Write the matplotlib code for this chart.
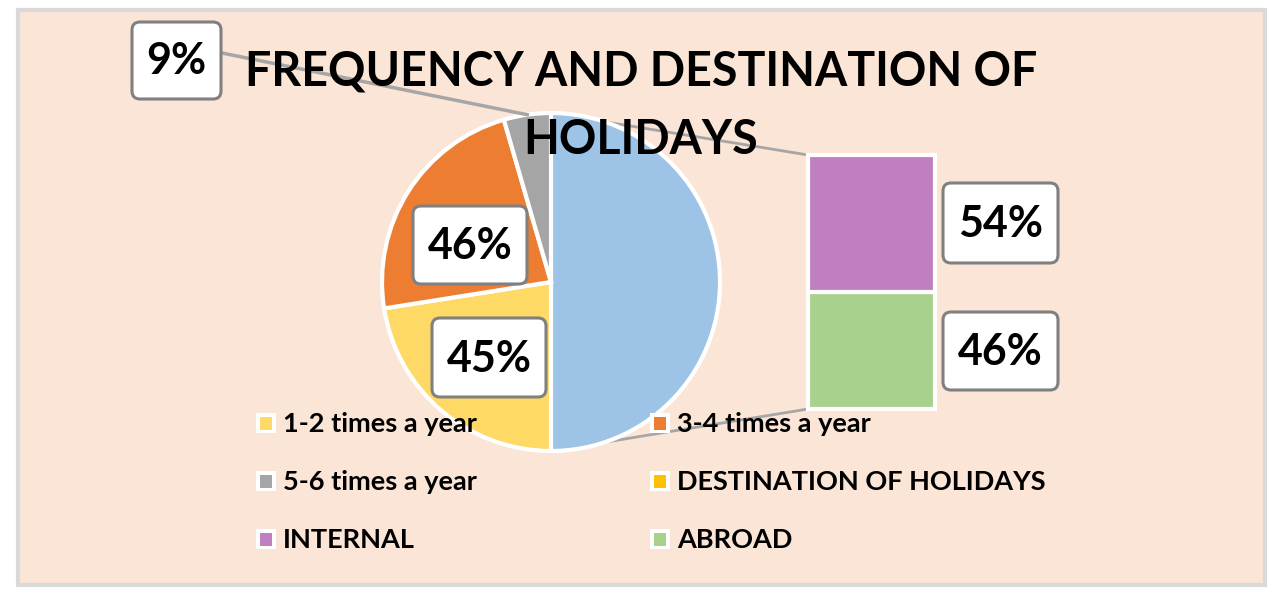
import matplotlib
matplotlib.use('Agg')
import numpy as np
import matplotlib.pyplot as plt
from matplotlib.patches import Rectangle, FancyBboxPatch

# data
freq_labels = ['1-2 times a year', '3-4 times a year', '5-6 times a year']
freq_values = [45, 46, 9]
dest_title = 'DESTINATION OF HOLIDAYS'
dest_labels = ['INTERNAL', 'ABROAD']
dest_values = [54, 46]

title_lines = ['FREQUENCY AND DESTINATION OF', 'HOLIDAYS']

freq_colors = ['#FFD966', '#ED7D31', '#A5A5A5']
dest_color = '#9DC3E6'
dest_legend_color = '#FFC000'
bar_colors = ['#BF7FC1', '#A9D18E']

W, H = 1284, 600
fig = plt.figure(figsize=(W / 100, H / 100), dpi=100)
fig.patch.set_facecolor('white')
ax = fig.add_axes([0, 0, 1, 1])


def Y(y):
    # picture y (from top) -> data y
    return H - y


# chart area
ax.add_patch(Rectangle((18, Y(585)), 1247, 575, facecolor='#FBE5D6',
                       edgecolor='#D9D9D9', lw=3, zorder=0))

# pie: the blue slice stands for the bar's total
cx, cy, r = 551, Y(282), 169
pie_values = [sum(dest_values)] + freq_values
pie_colors = [dest_color] + freq_colors
wedges, _ = ax.pie(pie_values, colors=pie_colors, startangle=90, counterclock=False,
                   center=(cx, cy), radius=r, frame=True,
                   wedgeprops=dict(edgecolor='white', linewidth=3))
for w in wedges:
    w.set_zorder(2)

# bar of the destination split
bar_x, bar_w = 871.5, 127
bar_bottom, bar_h = Y(409), 254
scale = bar_h / sum(dest_values)
bottom = bar_bottom
for val, col in zip(dest_values[::-1], bar_colors[::-1]):
    ax.bar(bar_x, val * scale, width=bar_w, bottom=bottom, color=col,
           edgecolor='white', linewidth=3, zorder=2)
    bottom += val * scale

# connector lines
line_col = '#A6A6A6'
ax.plot([cx, bar_x - bar_w / 2], [cy + r, bar_bottom + bar_h], color=line_col, lw=2, zorder=1)
ax.plot([cx, bar_x - bar_w / 2], [cy - r, bar_bottom], color=line_col, lw=2, zorder=1)

# leader line for the small slice
g = wedges[3]
mid = np.deg2rad((g.theta1 + g.theta2) / 2)
ax.plot([222, cx + r * np.cos(mid)], [Y(53), cy + r * np.sin(mid)],
        color=line_col, lw=2.5, zorder=3)

# data labels
label_font = ['Lato', 'DejaVu Sans']
labels = [
    ('9%', 176.5, 60.5, 89, 77),
    ('46%', 470, 245, 114, 78),
    ('45%', 489, 357.5, 114, 79),
    ('54%', 1000.5, 223, 115, 80),
    ('46%', 1000.5, 351, 115, 78),
]
for txt, x, y, bw, bh in labels:
    ax.add_patch(FancyBboxPatch((x - bw / 2 + 8, Y(y) - bh / 2 + 8), bw - 16, bh - 16,
                                boxstyle='round,pad=8', facecolor='white',
                                edgecolor='#808080', lw=2.2, zorder=4))
    ax.text(x, Y(y) - 1, txt, ha='center', va='center', fontsize=31,
            fontweight='bold', family=label_font, zorder=5)

# title
for line, ty in zip(title_lines, [68, 135.5]):
    ax.text(641, Y(ty), line, ha='center', va='center_baseline', fontsize=33.5,
            fontweight='bold', family=label_font, zorder=6)

# legend
leg_labels = freq_labels + [dest_title] + dest_labels
leg_colors = freq_colors + [dest_legend_color] + bar_colors
for i, (lab, col) in enumerate(zip(leg_labels, leg_colors)):
    row, colm = divmod(i, 2)
    mx = 266 + colm * 394
    my = Y(423 + row * 58)
    ax.add_patch(Rectangle((mx - 10, my - 10), 20, 20, facecolor='white',
                           edgecolor='none', zorder=4))
    ax.add_patch(Rectangle((mx - 6, my - 6.5), 12, 13, facecolor=col,
                           edgecolor='none', zorder=5))
    ax.text(mx + 17, my - 1, lab, ha='left', va='center', fontsize=19.5,
            fontweight='bold', family=label_font, zorder=5)

ax.set_xlim(0, W)
ax.set_ylim(0, H)
ax.set_aspect('auto')
ax.axis('off')

fig.savefig('out.png', dpi=100, facecolor='white')
